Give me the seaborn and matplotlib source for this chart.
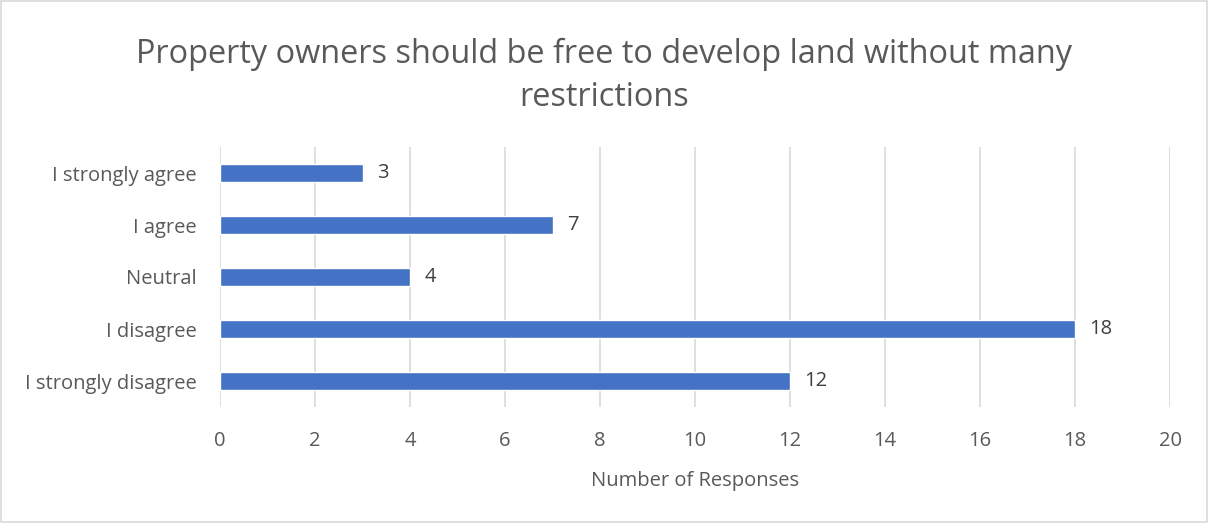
import matplotlib
matplotlib.use("Agg")
import matplotlib.pyplot as plt
import seaborn as sns
import pandas as pd

# chart data
responses = ["I strongly agree", "I agree", "Neutral", "I disagree", "I strongly disagree"]
counts = [3, 7, 4, 18, 12]
x_ticks = [0, 2, 4, 6, 8, 10, 12, 14, 16, 18, 20]

title = "Property owners should be free to develop land without many\nrestrictions"
x_label = "Number of Responses"

sns.set_theme(style="white")
plt.rcParams['font.family'] = ['Open Sans', 'DejaVu Sans']

text_color = "#595959"
bar_color = "#4472C4"

df = pd.DataFrame({"response": responses, "count": counts})

fig = plt.figure(figsize=(12.08, 5.23), dpi=100)
ax = fig.add_axes([220 / 1208, 1 - 407 / 523, 950 / 1208, 260 / 523])

sns.barplot(data=df, y="response", x="count", orient="h", color=bar_color,
            saturation=1, width=0.36, ax=ax, zorder=3)

ax.set_xlim(0, 20)
ax.set_xticks(x_ticks)
ax.xaxis.grid(True, color="#D9D9D9", linewidth=1.2, zorder=0)
for s in ax.spines.values():
    s.set_visible(False)
ax.tick_params(axis="both", length=0, labelsize=14.5, labelcolor=text_color)
ax.tick_params(axis="x", pad=17)
ax.tick_params(axis="y", pad=17)
ax.set_ylabel("")
ax.set_xlabel(x_label, fontsize=14.5, color=text_color, labelpad=15)

for i, v in enumerate(counts):
    ax.text(v + 0.3, i, str(v), va="center", ha="left", fontsize=14.5, color="#404040")

fig.text(0.5, 1 - 76 / 523, title, ha="center", va="center", fontsize=23.4,
         color=text_color, linespacing=1.4)

# thin border around the chart area
fig.patches.append(plt.Rectangle((0.001, 0.002), 0.998, 0.996, transform=fig.transFigure,
                                 fill=False, edgecolor="#D9D9D9", linewidth=1.2))

fig.savefig("out.png", dpi=100)
